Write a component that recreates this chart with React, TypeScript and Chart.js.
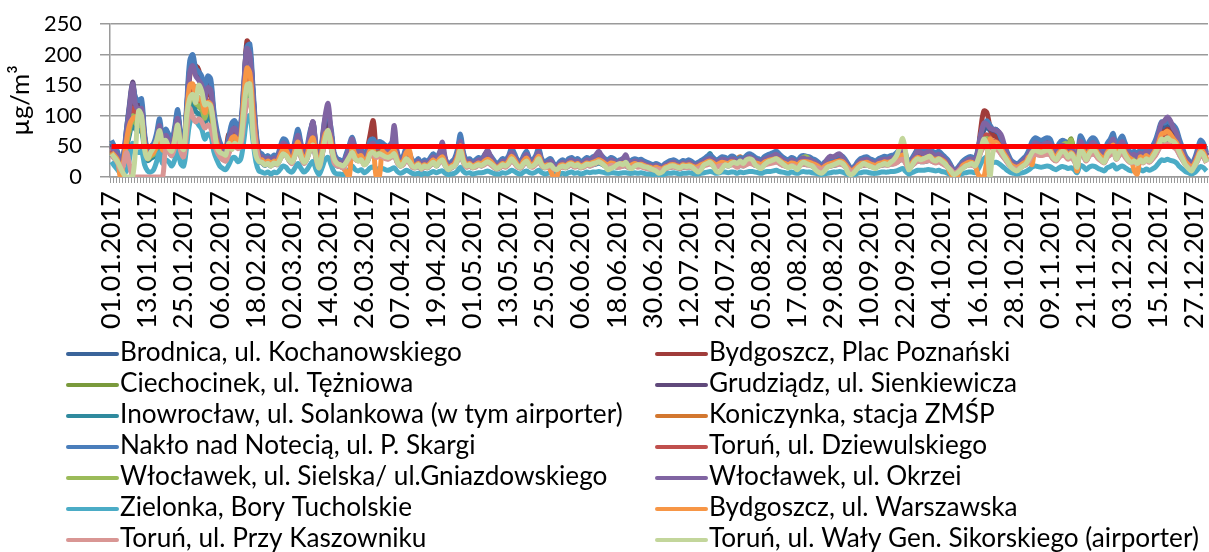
import React, { useEffect, useRef } from 'react';
import { Chart, registerables } from 'chart.js';

Chart.register(...registerables);

// ---------------- DATA ----------------
const YEAR = 2017;
const LIMIT = 50;
const Y_MIN = 0;
const Y_MAX = 250;
const Y_STEP = 50;
const LABEL_EVERY = 12;
const Y_TITLE = 'µg/m³';

const stationNames = [
  'Brodnica, ul. Kochanowskiego',
  'Bydgoszcz, Plac Poznański',
  'Ciechocinek, ul. Tężniowa',
  'Grudziądz, ul. Sienkiewicza',
  'Inowrocław, ul. Solankowa (w tym airporter)',
  'Koniczynka, stacja ZMŚP',
  'Nakło nad Notecią, ul. P. Skargi',
  'Toruń, ul. Dziewulskiego',
  'Włocławek, ul. Sielska/ ul.Gniazdowskiego',
  'Włocławek, ul. Okrzei',
  'Zielonka, Bory Tucholskie',
  'Bydgoszcz, ul. Warszawska',
  'Toruń, ul. Przy Kaszowniku',
  'Toruń, ul. Wały Gen. Sikorskiego (airporter)',
];

const stationColors = [
  '#3A649A', '#A03C3A', '#7A9A3C', '#60497B', '#2F8A9E', '#D3772F', '#4A7EBB',
  '#C0504D', '#9BBB59', '#8064A2', '#4BACC6', '#F79646', '#D99694', '#C3D69B',
];

const brodnica = [
  55,45,38,25,35,70,100,135,120,118, 115,65,42,45,50,65,85,58,70,65, 52,75,100,65,50,110,175,190,170,160,
  155,135,150,150,100,70,52,45,40,60, 80,85,75,82,140,200,205,140,72,38, 35,30,32,28,33,30,44,55,55,42,
  35,55,70,50,35,45,68,80,45,22, 55,88,95,72,36,28,25,22,35,48, 58,45,40,44,32,38,55,58,50,52,
  50,48,45,50,55,36,28,32,44,36, 25,22,27,20,25,22,29,34,27,36, 40,27,18,22,27,40,62,36,25,27,
  22,25,29,27,32,36,32,25,20,22, 27,25,32,42,34,25,22,32,38,27, 25,32,42,27,22,25,27,20,18,22,
  25,22,27,29,25,27,22,25,29,27, 30,32,34,32,27,25,29,27,23,25, 27,27,22,25,27,25,26,23,21,20,
  18,20,18,16,20,22,24,25,22,21, 24,23,25,22,20,22,24,27,30,32, 29,25,27,30,29,27,30,30,25,29,
  27,32,34,32,29,27,25,30,32,34, 36,38,34,30,27,25,29,27,23,30, 32,30,30,27,25,21,18,22,25,27,
  29,30,32,30,25,18,12,16,22,27, 29,30,27,25,23,27,29,30,30,32, 32,36,40,44,34,20,27,34,40,38,
  38,40,42,38,36,38,34,30,25,18, 10,12,18,23,27,30,30,27,40,62, 76,82,76,70,70,65,54,45,34,25,
  22,20,22,27,32,40,52,58,56,54, 56,58,56,45,40,50,54,52,45,50, 40,27,60,54,40,52,58,56,47,40,
  36,50,56,64,45,54,60,50,40,36, 38,34,40,36,43,38,45,54,68,82, 80,84,80,76,70,56,43,32,25,20,
  27,40,54,50,36,
];

const bydgoszczPlacPoznanski = [
  50,42,35,18,30,65,100,130,112,108, 110,60,38,42,46,60,80,52,65,58, 48,68,92,58,46,100,165,180,182,175,
  150,125,140,135,92,65,48,40,45,70, 65,75,68,76,140,222,210,130,68,35, 32,27,30,25,30,28,40,52,50,38,
  32,50,65,46,32,42,62,72,42,20, 50,80,85,66,34,25,23,20,32,44, 54,42,38,40,30,45,70,92,50,48,
  46,44,42,46,50,34,25,30,40,34, 24,21,25,19,24,21,27,32,25,34, 38,25,17,21,25,38,58,34,24,25,
  21,24,27,25,30,34,30,24,19,21, 25,24,30,40,32,24,21,30,36,25, 24,30,40,25,21,24,25,19,17,21,
  24,21,25,27,24,25,21,24,27,25, 28,30,32,30,25,24,27,25,22,24, 25,25,21,24,25,24,25,22,20,19,
  17,19,17,15,19,21,23,24,21,20, 23,22,24,21,19,20,23,25,29,31, 27,24,25,28,27,25,29,28,24,27,
  25,30,32,31,27,25,24,28,31,32, 34,36,32,28,25,24,27,25,22,28, 30,29,28,25,24,20,17,20,24,25,
  27,29,31,29,24,17,12,15,21,25, 27,28,25,24,22,25,27,29,28,30, 30,34,38,40,32,19,26,36,47,45,
  40,42,44,40,38,40,35,30,24,17, 10,12,17,22,25,28,28,25,42,80, 108,105,82,68,66,60,50,42,32,24,
  20,19,21,25,30,38,48,54,52,50, 52,54,52,42,38,46,50,48,42,46, 38,25,56,50,38,48,54,52,44,38,
  34,46,52,60,42,50,56,46,38,34, 35,32,38,34,40,35,42,50,62,75, 72,78,74,70,65,52,40,30,24,19,
  25,38,50,46,34,
];

const ciechocinek = [
  40,35,28,15,25,50,75,95,85,80, 82,48,30,33,36,48,62,42,52,46, 38,55,72,46,36,80,125,132,118,115,
  110,95,110,105,72,52,38,32,30,44, 58,62,54,60,102,140,142,100,54,28, 25,21,23,20,24,22,32,41,40,30,
  25,40,52,36,25,33,50,58,33,17, 40,62,66,53,26,20,18,17,25,34, 43,33,30,32,23,28,40,41,36,38,
  37,34,33,36,40,26,20,23,32,26, 18,17,20,15,18,17,21,25,20,26, 30,20,13,17,20,30,46,26,18,20,
  17,18,21,20,23,26,23,18,15,17, 20,18,23,31,25,18,17,23,28,20, 18,23,31,20,17,18,20,15,13,17,
  18,17,20,21,18,20,17,18,21,20, 22,23,25,23,20,18,21,20,17,18, 20,20,17,18,20,18,19,17,16,15,
  13,15,13,12,15,17,18,18,17,16, 18,17,18,17,15,16,18,20,22,24, 21,18,20,22,21,20,22,22,18,21,
  20,23,25,24,21,20,18,22,24,25, 26,28,25,22,20,18,21,20,17,22, 28,30,28,20,18,16,13,16,18,20,
  21,22,24,22,18,13,9,12,17,20, 21,22,20,18,17,20,21,22,22,23, 24,26,30,33,25,15,20,25,29,28,
  28,29,30,28,26,28,25,22,18,13, 8,9,13,17,20,22,22,20,30,46, 56,60,56,51,51,47,40,33,25,18,
  16,14,16,20,23,30,38,42,41,40, 41,42,41,33,30,36,50,58,55,62, 40,20,44,40,30,38,42,41,34,30,
  26,36,41,47,33,40,44,36,30,26, 28,25,30,26,32,28,33,40,50,59, 58,61,58,56,52,41,32,23,18,15,
  20,30,40,36,26,
];

const grudziadz = [
  52,44,36,20,34,78,120,155,125,115, 118,66,42,46,50,66,88,56,72,64, 54,76,102,64,50,112,178,188,170,162,
  155,132,152,148,100,70,52,44,40,60, 80,84,74,84,150,215,205,140,72,38, 34,29,32,27,32,30,43,56,54,40,
  34,54,70,50,34,45,68,90,45,22, 55,86,92,72,36,27,25,22,34,47, 58,45,40,43,31,38,54,56,50,52,
  50,47,45,50,54,36,27,31,43,36, 25,22,27,20,25,22,29,34,27,36, 42,27,18,22,27,40,62,36,25,27,
  22,25,29,27,36,42,32,25,20,22, 27,25,32,42,34,25,22,32,38,27, 25,32,42,27,22,25,27,20,18,22,
  25,22,27,29,25,27,22,25,29,27, 30,32,34,32,27,25,29,27,23,25, 27,27,22,25,27,25,26,23,21,20,
  18,20,18,16,20,22,24,25,22,21, 24,23,25,22,20,22,24,27,30,32, 29,25,27,30,29,27,30,30,25,29,
  27,32,34,32,29,27,25,30,32,34, 36,38,34,30,27,25,29,27,23,30, 32,30,30,27,25,21,18,22,25,27,
  29,30,32,30,25,18,12,16,22,27, 29,30,27,25,23,27,29,30,30,32, 32,36,40,44,34,20,27,34,40,38,
  38,40,42,38,36,38,34,30,25,18, 10,12,18,23,27,30,30,27,42,66, 82,88,80,76,78,72,56,45,34,25,
  22,20,22,27,32,40,52,58,56,54, 56,58,56,45,40,50,54,52,45,50, 40,27,60,54,40,52,58,56,47,40,
  36,50,56,64,45,54,60,50,40,36, 38,34,40,36,43,38,45,54,70,85, 88,96,90,78,70,56,43,32,25,20,
  27,40,54,50,36,
];

const inowroclaw = [
  36,30,25,13,22,48,70,90,78,75, 77,43,27,30,33,43,57,37,47,42, 35,49,66,42,33,72,114,120,107,103,
  99,85,99,96,66,47,35,29,27,40, 53,55,48,54,93,125,130,90,48,25, 23,19,21,18,22,20,29,37,36,27,
  23,36,47,33,23,30,45,53,30,15, 36,57,60,48,24,18,17,15,23,31, 39,30,27,29,21,25,36,37,33,35,
  34,31,30,33,36,24,18,21,29,24, 17,15,18,13,17,15,19,23,18,24, 27,18,12,15,18,27,42,24,17,18,
  15,17,19,18,21,24,21,17,13,15, 18,17,21,28,23,17,15,21,25,18, 17,21,28,18,15,17,18,13,12,15,
  17,15,18,19,17,18,15,17,19,18, 20,21,23,21,18,17,19,18,16,17, 18,18,15,17,18,17,17,16,14,13,
  12,13,12,11,13,15,16,17,15,14, 16,16,17,15,13,14,16,22,30,38, 22,17,18,20,19,18,20,20,17,19,
  18,21,23,22,19,18,17,20,22,23, 24,25,23,20,18,17,19,18,16,20, 21,20,20,18,17,14,12,14,17,18,
  19,20,22,20,17,12,8,11,15,18, 19,20,18,17,16,18,19,20,20,21, 22,24,27,30,23,13,18,23,26,25,
  25,26,28,25,24,25,23,20,17,12, 7,8,12,16,18,20,20,18,27,42, 51,55,51,47,47,43,36,30,23,17,
  14,13,15,18,21,27,35,38,37,36, 37,38,37,30,27,33,36,35,30,33, 27,18,40,36,27,35,38,37,31,27,
  24,33,37,43,30,36,40,33,27,24, 25,23,27,24,29,25,30,36,45,54, 53,55,53,51,47,37,29,21,17,13,
  18,27,36,33,24,
];

const koniczynka = [
  42,35,29,15,27,56,80,105,91,88, 90,50,32,35,38,50,66,43,55,49, 41,57,77,49,38,84,133,140,125,120,
  115,100,115,112,77,55,41,34,32,46, 62,64,56,63,108,150,152,105,56,29, 27,22,25,21,25,24,34,43,42,32,
  27,42,55,38,27,35,52,62,35,18, 42,66,70,56,28,21,20,18,27,36, 45,35,32,34,25,29,42,43,38,41,
  39,36,35,38,42,28,21,25,34,28, 20,18,21,15,20,18,22,27,21,28, 31,21,14,18,21,31,49,28,20,21,
  18,20,22,21,25,28,25,20,15,18, 21,20,25,33,27,20,18,25,29,21, 20,25,33,21,18,20,21,15,14,18,
  20,18,21,22,20,21,18,20,22,21, 23,25,27,25,21,20,22,21,18,20, 21,21,18,20,21,20,20,18,17,15,
  14,15,14,13,15,18,19,20,18,17, 19,18,20,18,15,17,19,21,24,25, 22,20,21,23,22,21,24,26,30,33,
  28,32,34,27,22,21,20,23,25,27, 28,29,27,23,21,20,22,21,18,23, 25,24,23,21,20,17,14,17,20,21,
  22,24,25,24,20,14,10,13,18,21, 22,23,21,20,18,21,22,24,23,25, 25,28,32,35,27,15,21,27,31,29,
  29,31,32,29,28,29,27,23,20,14, 8,10,14,18,21,23,23,21,32,49, 60,64,60,55,55,50,42,35,27,20,
  17,15,18,21,25,32,41,45,43,42, 43,45,43,35,32,38,42,41,35,38, 32,21,47,42,32,41,45,43,36,32,
  28,38,43,50,35,42,47,38,32,28, 29,27,32,28,34,29,35,42,52,63, 62,64,62,60,55,43,34,25,20,15,
  21,32,42,38,28,
];

const naklo = [
  60,50,42,22,38,80,115,150,130,125, 128,72,45,50,55,72,95,62,78,70, 58,82,110,70,55,120,190,200,178,172,
  165,142,165,160,110,78,58,48,45,66, 88,92,80,90,155,212,217,150,80,42, 38,32,35,30,36,34,48,62,60,45,
  38,60,78,55,38,50,75,88,50,25, 60,95,100,80,40,30,28,25,38,52, 65,50,45,48,35,42,60,62,55,58,
  56,52,50,55,60,40,30,35,48,40, 28,25,30,22,28,25,32,38,30,40, 45,30,20,25,30,45,70,40,28,30,
  25,28,32,30,35,40,35,28,22,25, 30,28,35,47,38,28,25,35,42,30, 28,35,47,30,25,28,30,22,20,25,
  28,25,30,32,28,30,25,28,32,30, 33,35,38,35,30,28,32,30,26,28, 30,30,25,28,30,28,29,26,24,22,
  20,22,20,18,22,25,27,28,25,24, 27,26,28,25,22,24,27,30,34,36, 32,28,30,33,32,30,34,33,28,32,
  30,35,38,36,32,30,28,33,36,38, 40,42,38,33,30,28,32,30,26,33, 35,34,33,30,28,24,20,24,28,30,
  32,34,36,34,28,20,14,18,25,30, 32,33,30,28,26,30,32,34,33,35, 36,40,45,50,38,22,30,38,44,42,
  42,44,46,42,40,42,38,33,28,20, 12,14,20,26,30,33,33,30,45,70, 85,92,85,78,78,72,60,50,38,28,
  24,22,25,30,35,45,58,64,62,60, 62,64,62,50,45,55,60,58,50,55, 45,30,67,60,45,58,64,62,52,45,
  40,55,62,71,50,60,67,55,45,40, 42,38,45,40,48,42,50,60,75,90, 88,92,88,85,78,62,48,35,28,22,
  30,45,60,55,40,
];

const torunDziewulskiego = [
  45,38,32,17,28,60,88,112,98,95, 96,54,34,38,41,54,72,46,58,52, 44,62,82,52,41,90,142,150,134,129,
  124,106,124,120,82,58,44,36,34,50, 66,69,60,68,116,160,163,112,60,32, 28,24,26,22,27,26,36,46,45,34,
  28,45,58,41,28,38,56,66,38,19, 45,71,75,60,30,22,21,19,28,39, 49,38,34,36,26,32,45,47,41,44,
  42,39,38,41,45,30,22,26,36,30, 21,19,22,16,21,19,24,28,22,30, 34,22,15,19,22,34,52,30,21,22,
  19,21,24,22,26,30,26,21,16,19, 22,21,26,35,28,21,19,26,32,22, 21,26,35,22,19,21,22,16,15,19,
  21,19,22,24,21,22,19,21,24,22, 25,26,28,26,22,21,24,22,20,21, 22,22,19,21,22,21,22,20,18,16,
  15,16,15,13,16,19,20,21,19,18, 20,19,21,19,16,18,20,22,25,27, 24,21,22,25,24,22,25,25,21,24,
  22,26,28,27,24,22,21,25,27,28, 30,31,28,25,22,21,24,22,20,25, 26,25,25,22,21,18,15,18,21,22,
  24,25,27,25,21,15,10,13,19,22, 24,25,22,21,19,22,24,25,25,26, 27,30,34,37,28,16,22,28,33,31,
  31,33,34,31,30,31,28,25,21,15, 9,10,15,19,22,25,25,22,34,52, 64,69,64,58,58,54,45,37,28,21,
  18,16,19,22,26,34,43,48,46,45, 46,48,46,37,34,41,45,43,37,41, 34,22,50,45,34,43,48,46,39,34,
  30,41,46,53,37,45,50,41,34,30, 31,28,34,30,36,31,37,45,56,67, 66,69,66,64,58,46,36,26,21,16,
  22,34,45,41,30,
];

const wloclawekSielska = [
  40,34,28,14,24,54,78,100,88,84, 86,48,30,34,37,48,64,42,53,47, 39,55,74,47,37,81,128,135,120,116,
  112,96,112,108,74,53,39,32,30,44, 59,62,54,61,104,142,146,101,54,28, 26,22,24,20,24,23,32,42,40,30,
  26,40,52,37,26,34,50,59,34,17, 40,64,68,54,27,20,19,17,26,35, 44,34,30,32,24,28,40,42,37,39,
  38,35,34,37,40,27,20,24,32,27, 19,17,20,15,19,17,22,26,20,27, 30,20,14,17,20,30,47,27,19,20,
  17,19,22,20,24,27,24,19,15,17, 20,19,24,32,26,19,17,24,28,20, 19,24,32,20,17,19,20,15,14,17,
  19,17,20,22,19,20,17,19,22,20, 22,24,26,24,20,19,22,20,18,19, 20,20,17,19,20,19,20,18,16,15,
  14,15,14,12,15,17,18,19,17,16, 18,18,19,17,15,16,18,20,23,24, 22,19,20,22,22,20,23,22,19,22,
  20,24,26,24,22,20,19,22,24,26, 27,28,26,22,20,19,22,20,18,27, 32,33,28,22,19,16,14,16,19,20,
  22,23,24,23,19,14,10,12,17,20, 22,22,20,19,18,20,22,23,22,24, 24,27,31,34,26,15,20,26,30,29,
  29,30,31,29,27,29,26,22,19,14, 8,10,14,18,20,22,22,20,31,48, 58,63,58,53,53,49,41,34,26,19,
  16,15,17,20,24,31,40,44,42,41, 42,44,42,34,31,37,50,55,52,60, 36,20,46,41,31,39,44,42,35,31,
  27,37,42,48,34,41,46,37,31,27, 29,26,31,27,33,29,34,41,51,61, 60,63,60,58,53,42,33,24,19,15,
  20,31,41,37,27,
];

const wloclawekOkrzei = [
  50,42,35,19,32,72,112,152,118,110, 112,62,40,44,48,62,84,54,68,60, 50,72,96,60,48,106,170,182,165,158,
  150,128,146,142,96,68,50,42,38,56, 76,80,70,80,145,210,200,135,70,36, 33,28,31,26,31,29,42,55,52,39,
  33,52,68,48,33,44,70,90,44,22, 56,100,120,74,35,26,24,21,33,46, 62,44,39,42,30,37,52,55,48,50,
  48,46,44,50,84,38,26,30,42,35, 24,21,26,19,24,21,28,33,26,38, 57,30,18,21,26,38,58,35,24,26,
  21,24,28,26,34,44,34,24,19,21, 26,24,31,40,33,24,21,31,37,26, 24,31,40,26,21,24,26,19,17,21,
  24,21,26,28,24,26,21,24,28,26, 30,36,42,34,26,24,28,26,22,26, 30,36,24,24,26,24,25,22,20,19,
  17,19,17,15,19,21,23,24,21,20, 23,22,24,21,19,21,23,26,29,30, 28,24,26,29,28,26,29,29,24,28,
  26,31,33,31,28,26,24,29,31,33, 35,37,33,29,26,24,28,26,22,29, 31,29,29,26,24,20,17,21,30,34,
  33,36,38,32,24,17,12,15,21,26, 28,29,26,24,22,26,28,29,29,31, 31,35,39,42,33,19,26,34,42,40,
  38,40,42,38,35,37,33,29,24,17, 10,12,17,22,26,29,29,26,42,70, 88,86,80,78,76,74,66,48,33,24,
  21,19,21,26,31,39,50,56,54,52, 54,56,54,44,39,48,52,50,44,48, 39,26,58,52,39,50,56,54,46,39,
  35,48,54,62,44,52,58,48,39,35, 37,33,39,35,42,37,44,52,68,88, 92,98,92,80,72,54,42,31,24,19,
  26,39,52,48,35,
];

const zielonka = [
  25,18,12,6,5,10,30,55,45,40, 42,20,10,8,12,25,40,22,28,25, 18,28,45,22,18,50,88,95,92,85,
  78,62,70,68,42,28,18,14,12,20, 30,32,25,30,60,95,100,60,25,10, 8,6,8,5,8,7,12,18,16,10,
  8,15,22,14,8,12,20,25,12,4, 15,28,32,20,8,5,5,4,8,12, 18,12,10,12,7,10,15,16,12,14,
  14,12,11,13,15,9,6,8,11,9, 6,5,6,4,6,5,7,9,7,9, 10,6,4,5,6,10,16,9,6,7,
  5,6,7,7,8,10,8,6,5,5, 7,6,8,11,9,6,5,8,10,7, 6,8,11,7,5,6,7,5,4,5,
  6,5,7,8,6,7,5,6,8,7, 8,8,9,8,7,6,7,7,6,6, 7,7,6,6,7,6,7,6,5,5,
  4,5,4,3,5,6,6,7,6,5, 6,6,7,6,5,5,6,7,8,9, 8,6,7,8,8,7,8,8,6,8,
  7,8,9,9,8,7,6,8,9,9, 10,11,9,8,7,6,8,7,6,8, 9,8,8,7,6,5,4,5,6,7,
  8,8,9,8,6,4,3,4,6,7, 8,8,7,6,6,7,8,8,8,9, 9,10,12,14,9,5,7,9,11,11,
  11,12,12,11,10,11,9,8,6,4, 2,3,4,6,7,8,8,7,12,22, 30,32,28,24,24,22,18,14,10,7,
  6,5,6,7,9,12,16,18,17,16, 17,18,17,14,12,15,17,16,14,15, 12,7,19,17,12,16,18,17,14,12,
  10,15,17,20,13,16,18,15,12,10, 11,10,12,10,13,11,13,16,22,28, 27,29,27,26,23,17,13,9,7,5,
  7,12,17,15,10,
];

const bydgoszczWarszawska = [
  40,35,28,0,25,60,85,95,98,100, 95,52,30,36,40,52,68,44,56,50, 42,60,80,50,40,100,150,152,135,128,
  125,105,122,118,80,56,42,34,32,48, 64,66,58,66,130,178,170,110,58,30, 28,23,26,22,26,24,35,45,44,33,
  28,44,57,40,28,36,55,64,36,18, 44,70,74,58,29,22,20,15,8,0, 47,37,33,35,25,31,44,45,0,0,
  42,38,36,40,44,29,22,26,40,44, 20,18,22,16,20,18,23,28,22,29, 33,22,15,18,22,33,51,29,20,22,
  18,20,23,22,26,29,26,20,16,18, 22,20,26,34,28,20,18,26,31,22, 20,26,34,22,18,20,10,0,0,18,
  20,18,22,23,20,22,18,20,23,22, 24,26,28,26,22,20,23,22,19,20, 22,22,18,20,22,20,21,19,17,16,
  14,16,14,13,16,18,20,20,18,17, 20,19,20,18,16,17,20,22,25,26, 23,20,22,24,23,22,25,24,20,23,
  22,25,28,26,23,22,20,24,26,28, 29,30,28,24,22,20,23,22,19,24, 25,25,24,22,20,17,14,17,20,22,
  23,25,26,25,20,14,10,13,18,22, 23,24,22,20,19,22,23,25,24,25, 26,29,33,36,28,16,22,28,32,30,
  30,32,34,30,29,30,28,24,15,5, 0,0,10,19,22,24,24,20,5,0, 0,30,62,57,57,52,44,36,28,20,
  17,16,18,22,25,33,20,46,45,44, 45,46,45,36,33,40,44,42,36,40, 33,10,48,44,33,42,46,45,38,33,
  29,40,45,52,36,44,48,40,33,29, 10,5,33,29,35,30,36,44,55,70, 72,75,70,62,56,45,35,25,20,16,
  22,33,44,40,29,
];

const torunKaszownik = [
  35,30,24,12,20,40,20,0,0,0, 0,0,0,0,0,0,0,0,45,42, 35,48,65,42,33,72,112,98,90,95,
  90,80,85,80,58,42,33,28,26,38, 50,53,46,52,90,120,125,88,50,28, 24,20,22,18,22,20,28,36,35,27,
  22,35,46,32,22,30,44,52,30,15, 35,56,60,47,23,18,17,15,22,30, 38,29,26,28,20,25,35,36,32,34,
  33,30,29,32,35,23,18,20,28,23, 16,15,18,13,16,15,19,22,18,23, 26,18,12,15,18,26,41,23,16,18,
  15,16,19,18,20,23,20,16,13,15, 18,16,20,28,22,16,15,20,25,18, 16,20,28,18,15,16,18,13,12,15,
  16,15,18,19,16,18,15,16,19,18, 20,22,25,22,18,16,19,18,16,16, 18,18,15,16,18,16,17,15,14,13,
  12,13,12,11,13,15,16,16,15,14, 16,15,16,15,13,14,16,18,20,21, 19,16,18,19,19,18,20,19,16,19,
  18,20,22,21,19,18,16,19,21,22, 23,25,22,19,18,16,19,18,15,19, 21,20,19,18,16,14,12,14,16,18,
  19,20,21,20,16,12,8,10,15,18, 19,19,18,16,15,18,19,20,19,21, 21,23,27,29,22,13,18,22,26,25,
  25,26,27,25,23,25,22,19,16,12, 7,8,12,15,18,19,19,18,26,41, 50,54,50,46,46,42,35,29,22,16,
  14,13,15,18,20,26,34,37,36,35, 36,37,36,29,26,32,35,34,29,32, 26,18,39,35,26,34,37,36,30,26,
  23,32,36,41,29,35,39,32,26,23, 24,22,26,23,28,24,29,35,44,52, 51,54,51,49,45,36,28,20,16,13,
  17,26,35,32,23,
];

const torunWaly = [
  38,32,25,15,5,0,0,0,45,108, 100,45,30,40,48,60,76,55,60,48, 42,60,85,52,45,100,128,135,122,150,
  140,118,120,115,85,50,40,38,36,55, 45,55,50,60,110,150,152,72,35,25, 24,20,22,18,23,21,28,38,35,28,
  24,35,48,34,24,30,45,52,32,15, 36,62,76,50,30,22,20,18,24,32, 40,30,26,28,20,25,38,40,35,38,
  36,33,32,34,38,25,18,22,30,25, 18,16,20,14,18,16,20,24,18,25, 28,18,12,16,18,28,44,25,18,20,
  16,18,20,19,22,25,22,18,14,16, 20,18,22,30,24,18,16,22,26,18, 18,22,30,20,16,18,20,14,12,16,
  18,16,20,21,18,20,16,18,21,20, 22,23,25,22,18,12,14,16,20,22, 20,24,16,14,18,20,19,17,16,14,
  12,10,6,8,14,16,18,18,16,15, 18,17,18,16,12,8,12,20,22,24, 18,10,8,14,20,18,22,24,22,26,
  22,28,30,28,20,16,14,20,24,26, 28,30,26,22,18,15,18,16,12,20, 24,22,20,18,12,8,6,10,16,18,
  20,22,24,22,16,6,4,8,14,18, 22,20,18,16,14,18,20,22,20,24, 28,35,48,63,40,12,18,26,30,28,
  30,32,34,28,26,30,26,22,16,10, 4,6,10,14,18,20,22,18,28,45, 62,52,0,40,50,48,40,32,24,16,
  12,10,14,18,22,30,40,44,42,40, 42,44,42,32,28,36,42,40,32,38, 30,16,44,40,28,38,44,42,34,28,
  24,36,42,48,30,40,46,36,28,24, 26,22,28,24,30,26,32,40,50,62, 60,64,60,58,52,40,30,20,14,10,
  18,28,40,36,24,
];

const stationValues = [
  brodnica, bydgoszczPlacPoznanski, ciechocinek, grudziadz, inowroclaw, koniczynka, naklo,
  torunDziewulskiego, wloclawekSielska, wloclawekOkrzei, zielonka, bydgoszczWarszawska,
  torunKaszownik, torunWaly,
];

// day labels dd.mm.yyyy for every day of the year
const pad = (n: number) => (n < 10 ? '0' + n : '' + n);
const dayLabels: string[] = (() => {
  const out: string[] = [];
  const d = new Date(Date.UTC(YEAR, 0, 1));
  while (d.getUTCFullYear() === YEAR) {
    out.push(`${pad(d.getUTCDate())}.${pad(d.getUTCMonth() + 1)}.${YEAR}`);
    d.setUTCDate(d.getUTCDate() + 1);
  }
  return out;
})();

// ---------------- STYLE ----------------
const FAMILY = 'Lato, "Open Sans", "Liberation Sans", sans-serif';
const W = 1209;
const H = 552;

function fitSize(text: string, target: number): number {
  const c = document.createElement('canvas').getContext('2d')!;
  c.font = `100px ${FAMILY}`;
  const w = c.measureText(text).width || 1;
  return (100 * target) / w;
}

export default function App() {
  const ref = useRef<HTMLCanvasElement | null>(null);

  useEffect(() => {
    if (!ref.current) return;
    const xTickSize = fitSize('01.01.2017', 138);
    const yTickSize = fitSize('250', 38);
    const legendSize = fitSize('Brodnica, ul. Kochanowskiego', 342);
    const titleSize = fitSize('µg/m', 62);

    const legendPlugin = {
      id: 'twoColLegend',
      afterDraw(chart: any) {
        const ctx = chart.ctx as CanvasRenderingContext2D;
        ctx.save();
        ctx.font = `${legendSize}px ${FAMILY}`;
        ctx.textBaseline = 'middle';
        ctx.textAlign = 'left';
        stationNames.forEach((name, i) => {
          const col = i % 2;
          const row = Math.floor(i / 2);
          const x = col === 0 ? 68 : 657;
          const y = 354 + row * 31;
          ctx.strokeStyle = stationColors[i];
          ctx.lineWidth = 4;
          ctx.lineCap = 'round';
          ctx.beginPath();
          ctx.moveTo(x, y);
          ctx.lineTo(x + 49, y);
          ctx.stroke();
          ctx.fillStyle = '#000';
          ctx.fillText(name, x + 52, y - 1);
        });
        ctx.restore();
      },
    };

    const n = stationNames.length;
    const datasets: any[] = stationValues.map((vals, i) => ({
      label: stationNames[i],
      data: vals,
      borderColor: stationColors[i],
      backgroundColor: stationColors[i],
      borderWidth: 5,
      pointRadius: 0,
      tension: 0.35,
      fill: false,
      order: n - i,
    }));
    datasets.push({
      label: 'limit',
      data: dayLabels.map(() => LIMIT),
      borderColor: '#FF0000',
      borderWidth: 5,
      pointRadius: 0,
      tension: 0,
      fill: false,
      order: 0,
    });

    const chart = new Chart(ref.current, {
      type: 'line',
      data: { labels: dayLabels, datasets },
      options: {
        animation: false,
        responsive: false,
        maintainAspectRatio: false,
        layout: { padding: { left: 0, right: 1, top: 24, bottom: 215 } },
        plugins: { legend: { display: false }, tooltip: { enabled: false } },
        scales: {
          x: {
            type: 'category',
            offset: true,
            grid: {
              display: true,
              drawOnChartArea: false,
              drawTicks: true,
              offset: true,
              tickLength: 6,
              color: '#9a9a9a',
              lineWidth: 1,
            },
            border: { display: true, color: '#9a9a9a', width: 1.5 },
            ticks: {
              autoSkip: false,
              minRotation: 90,
              maxRotation: 90,
              padding: 8,
              color: '#000',
              font: { family: FAMILY, size: xTickSize },
              callback: (_v: any, i: number) => (i % LABEL_EVERY === 0 ? dayLabels[i] : ''),
            },
            afterFit: (s: any) => {
              s.height = 160;
              s.paddingRight = 0;
              s.paddingLeft = 0;
            },
          },
          y: {
            min: Y_MIN,
            max: Y_MAX,
            ticks: {
              stepSize: Y_STEP,
              padding: 18,
              color: '#000',
              font: { family: FAMILY, size: yTickSize },
            },
            grid: { color: '#9a9a9a', lineWidth: 1.5, tickLength: 10 },
            border: { display: true, color: '#9a9a9a', width: 1.5 },
            title: {
              display: true,
              text: Y_TITLE,
              color: '#000',
              font: { family: FAMILY, size: titleSize },
              padding: { top: 5, bottom: 0 },
            },
            afterFit: (s: any) => {
              s.width = 110;
              s.paddingTop = 0;
              s.paddingBottom = 0;
            },
          },
        },
      },
      plugins: [legendPlugin],
    } as any);

    return () => chart.destroy();
  }, []);

  return (
    <div style={{ position: 'fixed', left: 0, top: 0, width: W, height: H, background: '#fff' }}>
      <canvas ref={ref} width={W} height={H} style={{ display: 'block', width: W, height: H }} />
    </div>
  );
}
